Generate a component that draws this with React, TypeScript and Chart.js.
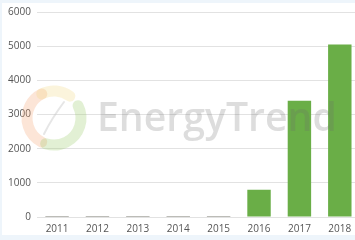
import React, { useEffect, useRef } from "react";
import { Chart, registerables } from "chart.js";

Chart.register(...registerables);

const categories = ["2011", "2012", "2013", "2014", "2015", "2016", "2017", "2018"];
const values = [15, 15, 15, 15, 15, 800, 3400, 5050];
const yTicks = [0, 1000, 2000, 3000, 4000, 5000, 6000];

const GREEN = "#6aae47";
const FRAME = "#eef5fb";
const FONT = "'Open Sans', 'DejaVu Sans', sans-serif";

const background = {
  id: "bg",
  beforeDraw(chart: any) {
    const ctx = chart.ctx as CanvasRenderingContext2D;
    ctx.save();
    ctx.fillStyle = "#fff";
    ctx.fillRect(0, 0, chart.width, chart.height);
    ctx.fillStyle = FRAME;
    ctx.fillRect(0, 0, chart.width, 3);
    ctx.restore();
  },
};

const watermark = {
  id: "watermark",
  afterDraw(chart: any) {
    const ctx = chart.ctx as CanvasRenderingContext2D;
    ctx.save();
    const cx = 52, cy = 118, r = 27;
    ctx.lineWidth = 11;
    ctx.lineCap = "round";
    ctx.strokeStyle = "rgba(245,160,110,0.28)";
    ctx.beginPath();
    ctx.arc(cx, cy, r, Math.PI * 0.65, Math.PI * 1.35);
    ctx.stroke();
    ctx.strokeStyle = "rgba(240,215,130,0.28)";
    ctx.beginPath();
    ctx.arc(cx, cy, r, Math.PI * 1.35, Math.PI * 1.7);
    ctx.stroke();
    ctx.strokeStyle = "rgba(150,200,100,0.28)";
    ctx.beginPath();
    ctx.arc(cx, cy, r, Math.PI * 1.85, Math.PI * 2.6);
    ctx.stroke();
    ctx.lineWidth = 2;
    ctx.strokeStyle = "rgba(200,200,200,0.45)";
    ctx.beginPath();
    ctx.moveTo(cx + 10, cy - 16);
    ctx.quadraticCurveTo(cx - 2, cy, cx - 10, cy + 16);
    ctx.stroke();
    const text = "EnergyTrend";
    ctx.font = `600 36px ${FONT}`;
    const w = ctx.measureText(text).width;
    const size = 36 * (240 / w);
    ctx.font = `600 ${size}px ${FONT}`;
    ctx.fillStyle = "rgba(110,110,110,0.23)";
    ctx.textBaseline = "alphabetic";
    ctx.fillText(text, 95, 131);
    ctx.restore();
  },
};

export default function App() {
  const ref = useRef<HTMLCanvasElement>(null);
  useEffect(() => {
    document.documentElement.style.background = FRAME;
    document.body.style.margin = "0";
    document.body.style.overflow = "hidden";
    const chart = new Chart(ref.current!, {
      type: "bar",
      data: {
        labels: categories,
        datasets: [
          {
            data: values,
            backgroundColor: (c: any) => (c.raw < 100 ? "#7a7a70" : GREEN),
            minBarLength: 1,
            barPercentage: 0.58,
            categoryPercentage: 1,
          },
        ],
      },
      options: {
        animation: false,
        responsive: true,
        maintainAspectRatio: false,
        layout: { padding: { top: 2, left: 0, right: 0, bottom: -6 } },
        plugins: { legend: { display: false }, tooltip: { enabled: false } },
        scales: {
          x: {
            grid: { display: false, drawTicks: false },
            border: { display: false },
            ticks: { color: "#555", font: { size: 10, family: FONT }, padding: 6 },
          },
          y: {
            min: 0,
            max: 6000,
            afterBuildTicks: (s: any) => {
              s.ticks = yTicks.map((v) => ({ value: v }));
            },
            grid: { color: "#e2e2e2", drawTicks: false },
            border: { display: false },
            ticks: {
              color: "#555",
              font: { size: 10, family: FONT },
              padding: 6,
              callback: (v: any) => String(v),
            },
          },
        },
      },
      plugins: [background, watermark],
    });
    return () => chart.destroy();
  }, []);
  return (
    <div
      style={{
        position: "absolute",
        left: 2,
        top: 0,
        width: 358,
        height: 235,
      }}
    >
      <canvas ref={ref} />
    </div>
  );
}
